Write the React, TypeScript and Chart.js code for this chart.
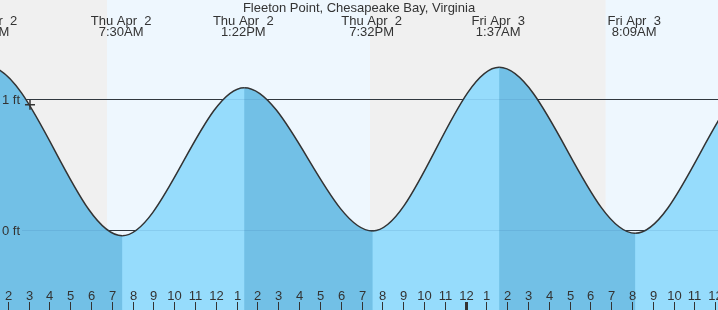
import React, { useEffect, useRef } from 'react';
import { Chart, registerables } from 'chart.js';

Chart.register(...registerables);

const TITLE = 'Fleeton Point, Chesapeake Bay, Virginia';

// Tide extrema, hours measured from Thu Apr 2 00:00
const extremaHours = [-5.2, 1.05, 7.5, 13.367, 19.533, 25.617, 32.15, 38.4, 44.6];
const extremaFeet = [0.02, 1.25, -0.04, 1.088, -0.004, 1.243, -0.021, 1.2, 0.0];
const extremaDays = ['Wed Apr  1', 'Thu Apr  2', 'Thu Apr  2', 'Thu Apr  2', 'Thu Apr  2', 'Fri Apr  3', 'Fri Apr  3', 'Fri Apr  3', 'Fri Apr  3'];
const extremaTimes = ['6:48PM', '1:03AM', '7:30AM', '1:22PM', '7:32PM', '1:37AM', '8:09AM', '2:24PM', '8:36PM'];

// Daylight (sunrise / sunset) in hours from Thu 00:00
const sunriseHours = [6.77, 30.73];
const sunsetHours = [19.41, 43.4];

// "Now" marker
const nowHour = [3.07];
const nowFeet = [0.958];

// Hour ticks along the bottom
const tickHours = [2, 3, 4, 5, 6, 7, 8, 9, 10, 11, 12, 13, 14, 15, 16, 17, 18, 19, 20, 21, 22, 23, 24, 25, 26, 27, 28, 29, 30, 31, 32, 33, 34, 35, 36];
const tickLabels = ['2', '3', '4', '5', '6', '7', '8', '9', '10', '11', '12', '1', '2', '3', '4', '5', '6', '7', '8', '9', '10', '11', '12', '1', '2', '3', '4', '5', '6', '7', '8', '9', '10', '11', '12'];
const midnightHours = [24];

// Level lines
const levelFeet = [0, 1];
const levelLabels = ['0 ft', '1 ft'];

const X_MIN = 1.629;
const X_MAX = 36.13;
const Y_MIN = -0.6055;
const Y_MAX = 1.7555;

const FONT = '13px "Liberation Sans", Arial, sans-serif';
const TEXT = '#333333';
const NIGHT_BG = '#f0f0f0';
const DAY_BG = '#eef7fe';
const FALL_FILL = '#72c0e6';
const RISE_FILL = '#96dcfc';

const tidePlugin = {
  id: 'tideDecor',
  beforeDraw(chart: any) {
    const { ctx, chartArea: a, scales } = chart;
    const x = scales.x;
    ctx.save();
    ctx.fillStyle = NIGHT_BG;
    ctx.fillRect(a.left, a.top, a.right - a.left, a.bottom - a.top);
    ctx.fillStyle = DAY_BG;
    for (let i = 0; i < sunriseHours.length; i++) {
      const x0 = Math.max(a.left, x.getPixelForValue(sunriseHours[i]));
      const x1 = Math.min(a.right, x.getPixelForValue(sunsetHours[i]));
      if (x1 > x0) ctx.fillRect(x0, a.top, x1 - x0, a.bottom - a.top);
    }
    ctx.restore();
  },
  beforeDatasetsDraw(chart: any) {
    const { ctx, chartArea: a, scales } = chart;
    ctx.save();
    ctx.strokeStyle = '#333333';
    ctx.lineWidth = 1;
    for (const f of levelFeet) {
      const y = Math.round(scales.y.getPixelForValue(f)) + 0.5;
      ctx.beginPath();
      ctx.moveTo(a.left + 22, y);
      ctx.lineTo(a.right, y);
      ctx.stroke();
    }
    ctx.restore();
  },
  afterDatasetsDraw(chart: any) {
    const { ctx, chartArea: a, scales } = chart;
    const xs = scales.x;
    const ys = scales.y;
    ctx.save();
    // faint level lines over water
    ctx.strokeStyle = 'rgba(30,90,150,0.12)';
    ctx.lineWidth = 1;
    for (const f of levelFeet) {
      const y = Math.round(ys.getPixelForValue(f)) + 0.5;
      ctx.beginPath();
      ctx.moveTo(a.left + 22, y);
      ctx.lineTo(a.right, y);
      ctx.stroke();
    }
    ctx.font = FONT;
    ctx.fillStyle = TEXT;
    // level labels
    ctx.textAlign = 'left';
    ctx.textBaseline = 'alphabetic';
    for (let i = 0; i < levelFeet.length; i++) {
      const y = ys.getPixelForValue(levelFeet[i]);
      ctx.fillText(levelLabels[i], a.left + 2, y + 4.7);
    }
    // hour ticks
    ctx.textAlign = 'center';
    ctx.strokeStyle = '#333333';
    for (let i = 0; i < tickHours.length; i++) {
      const px = Math.round(xs.getPixelForValue(tickHours[i]));
      const isMid = midnightHours.includes(tickHours[i]);
      if (isMid) {
        ctx.fillStyle = '#333333';
        ctx.fillRect(px - 1, a.bottom - 8, 3, 8);
      } else {
        ctx.beginPath();
        ctx.moveTo(px + 0.5, a.bottom - 8);
        ctx.lineTo(px + 0.5, a.bottom);
        ctx.stroke();
      }
      ctx.fillStyle = TEXT;
      ctx.fillText(tickLabels[i], px + 0.5, a.bottom - 9.7);
    }
    // extrema labels
    for (let i = 0; i < extremaHours.length; i++) {
      const px = xs.getPixelForValue(extremaHours[i]) - 1;
      ctx.fillText(extremaDays[i], px, a.top + 24.5);
      ctx.fillText(extremaTimes[i], px, a.top + 36.2);
    }
    // title
    ctx.fillText(TITLE, (a.left + a.right) / 2, a.top + 12);
    ctx.restore();
  },
};

export default function App() {
  const ref = useRef<HTMLCanvasElement | null>(null);
  useEffect(() => {
    if (!ref.current) return;
    const tide = extremaHours.map((h, i) => ({ x: h, y: extremaFeet[i] }));
    const now = nowHour.map((h, i) => ({ x: h, y: nowFeet[i] }));
    const chart = new Chart(ref.current, {
      type: 'line',
      data: {
        datasets: [
          {
            data: now,
            showLine: false,
            pointStyle: 'cross',
            pointRadius: 5,
            pointBorderColor: '#333333',
            pointBorderWidth: 1.5,
            borderColor: '#333333',
            fill: false,
            order: 0,
          } as any,
          {
            data: tide,
            borderColor: '#333333',
            borderWidth: 1.5,
            pointRadius: 0,
            cubicInterpolationMode: 'monotone',
            capBezierPoints: false,
            fill: 'start',
            backgroundColor: RISE_FILL,
            segment: {
              backgroundColor: (c: any) => (c.p1.parsed.y < c.p0.parsed.y ? FALL_FILL : RISE_FILL),
            },
            order: 1,
          } as any,
          {
            // solid underlay so the phase-coloured fills meet without seams
            data: tide,
            borderWidth: 0,
            borderColor: 'rgba(0,0,0,0)',
            pointRadius: 0,
            cubicInterpolationMode: 'monotone',
            capBezierPoints: false,
            fill: 'start',
            backgroundColor: '#84cef1',
            order: 2,
          } as any,
        ],
      },
      options: {
        animation: false,
        responsive: false,
        maintainAspectRatio: false,
        devicePixelRatio: 1,
        events: [],
        layout: { padding: 0, autoPadding: false } as any,
        parsing: false as any,
        normalized: true,
        plugins: {
          legend: { display: false },
          tooltip: { enabled: false },
          title: { display: false },
        },
        scales: {
          x: { type: 'linear', min: X_MIN, max: X_MAX, display: false },
          y: { type: 'linear', min: Y_MIN, max: Y_MAX, display: false },
        },
      },
      plugins: [tidePlugin],
    });
    return () => chart.destroy();
  }, []);
  return (
    <div style={{ position: 'fixed', left: 0, top: 0, width: 718, height: 310 }}>
      <canvas ref={ref} width={718} height={310} style={{ display: 'block', width: 718, height: 310 }} />
    </div>
  );
}
